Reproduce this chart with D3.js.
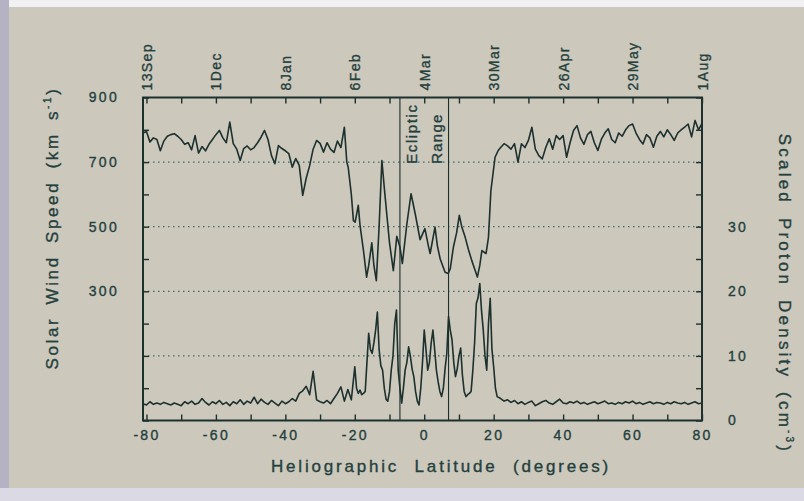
<!DOCTYPE html>
<html>
<head>
<meta charset="utf-8">
<script src="https://cdn.jsdelivr.net/npm/d3@7"></script>
<style>
body { margin: 0; background: #ccc7bb; }
svg text { font-family: "Liberation Sans", Arial, sans-serif; fill: #24403d; stroke: #24403d; stroke-width: 0.35px; }
</style>
</head>
<body>
<svg id="chart" width="804" height="501"></svg>
<script>
// ---- data ----
// solar wind speed (km/s) vs heliographic latitude
var speedLatLeft = d3.range(-81, -22);   // -81 .. -23
var speedLeft = [790, 795, 762, 775, 770, 735, 765, 780, 785, 788, 780, 770, 755, 760, 738, 782, 728, 748, 735, 755,
    770, 785, 798, 775, 760, 824, 757, 740, 705, 742, 750, 738, 745, 760, 777, 798, 770, 720, 695, 751,
    742, 735, 726, 684, 711, 690, 597, 650, 689, 740, 767, 758, 731, 760, 740, 730, 765, 745, 808];
var speedLatMid = [-22.3, -21.9, -21, -20.4, -19.9, -19, -18.5, -17.5, -16.6, -16, -15.1, -14.5, -13.8, -13, -12.2,
    -11.5, -10.8, -10, -8.9, -7.9, -7, -6.3, -5, -3.8, -2.6, -1.2, 0.2, 1.2, 1.7, 3.1, 3.8, 4.6, 6, 6.9, 7.5,
    8.4, 9.3, 10.1, 10.8, 11.8, 12.7, 13.7, 14.5, 15.3, 16, 16.6, 17.8, 18.5, 19.2, 20.4, 21.3, 22, 23];
var speedMid = [700, 684, 600, 519, 514, 566, 505, 426, 344, 380, 450, 380, 333, 500, 705,
    620, 540, 450, 364, 470, 437, 386, 509, 602, 540, 460, 494, 440, 417, 499, 440, 400, 359, 355, 370,
    437, 480, 535, 500, 467, 430, 395, 370, 344, 380, 426, 417, 467, 612, 715, 736, 745, 757];
var speedLatRight = d3.range(24, 81);    // 24 .. 80
var speedRight = [750, 740, 757, 700, 757, 745, 767, 808, 740, 720, 710, 745, 772, 740, 782, 770, 782, 715, 760, 798,
    813, 775, 755, 785, 795, 760, 736, 770, 790, 803, 770, 760, 790, 780, 800, 813, 818, 790, 770, 756,
    785, 775, 746, 780, 795, 778, 800, 785, 767, 790, 800, 808, 818, 778, 829, 800, 820];

// scaled proton density (cm^-3)
var densLatLeft = d3.range(-81, -20);    // -81 .. -21
var densLeft = [2.6, 2.4, 2.9, 2.5, 2.7, 2.5, 2.8, 2.6, 2.4, 2.7, 2.5, 2.3, 2.9, 2.6, 3.0, 2.5, 2.7, 3.4, 2.8, 2.4,
    2.9, 2.6, 3.1, 2.5, 2.8, 2.3, 2.9, 2.6, 3.2, 2.5, 3.0, 2.7, 3.6, 2.6, 3.3, 2.8, 2.5, 3.1, 2.7, 2.3,
    3.0, 2.6, 2.9, 3.4, 3.0, 4.2, 4.6, 5.3, 4.0, 7.6, 3.2, 2.9, 2.7, 3.1, 2.6, 3.4, 4.2, 5.2, 3.0, 4.8, 3.2];
var densLatMid = d3.range(-40, 43).map(function(i){ return i / 2; });   // -20 .. 21 by 0.5
var densMid = [8.3, 5.0, 4.2, 4.7, 4.0, 4.2, 4.5, 9.0, 13.5, 11.0, 10.4, 12.0, 14.0, 16.8, 11.0, 8.5, 7.8, 5.0, 3.3, 3.0,
    4.5, 7.8, 10.0, 15.0, 17.1, 7.8, 5.0, 2.7, 5.0, 7.8, 9.0, 11.4, 10.0, 8.0, 6.8, 4.5, 3.0, 2.4, 5.0, 9.0,
    14.0, 11.0, 7.8, 9.0, 12.0, 14.0, 11.0, 7.8, 6.0, 4.5, 3.7, 5.0, 8.0, 10.4, 16.1, 14.0, 12.5, 9.0, 6.8, 8.0,
    10.0, 11.2, 7.0, 4.5, 3.7, 4.0, 4.2, 4.5, 7.8, 12.0, 18.1, 19.0, 21.2, 17.0, 14.0, 10.0, 7.8, 15.0, 18.9, 11.0,
    8.3, 5.0, 3.7];
var densLatRight = d3.range(22, 81);     // 22 .. 80
var densRight = [3.4, 3.0, 3.2, 2.8, 3.1, 2.6, 2.9, 2.5, 2.8, 3.0, 2.3, 2.6, 2.9, 3.1, 2.7, 2.5, 2.9, 3.3, 2.7, 2.6,
    2.9, 2.7, 3.0, 2.6, 2.8, 2.5, 2.7, 2.9, 2.6, 2.8, 3.0, 2.6, 2.7, 2.5, 2.8, 2.6, 2.9, 2.7, 3.0, 2.6,
    2.8, 2.5, 2.7, 2.9, 2.6, 2.8, 2.7, 2.5, 2.8, 2.6, 2.9, 2.7, 2.6, 2.8, 2.5, 2.7, 2.9, 2.6, 2.7];

// axis labels
var speedTickLabels = [900, 700, 500, 300];
var densTickLabels = [0, 10, 20, 30];
var latTickLabels = [-80, -60, -40, -20, 0, 20, 40, 60, 80];
var dateLabels = ["13Sep", "1Dec", "8Jan", "6Feb", "4Mar", "30Mar", "26Apr", "29May", "1Aug"];
var gridSpeeds = [700, 500, 300, 100];
var eclipticRange = [-7, 7];

function zip(lat, val) {
    return lat.map(function(l, i){ return { lat: l, v: val[i] }; });
}
var speedData = zip(speedLatLeft, speedLeft).concat(zip(speedLatMid, speedMid), zip(speedLatRight, speedRight));
var densData = zip(densLatLeft, densLeft).concat(zip(densLatMid, densMid), zip(densLatRight, densRight));

// ---- layout ----
var margin = { left: 143, right: 102, top: 97.5, bottom: 80.5 },
    width = 804 - margin.left - margin.right,
    height = 501 - margin.top - margin.bottom;
var ink = "#1c302e";

var svg = d3.select("#chart");

// photo edges
svg.append("rect").attr("width", 804).attr("height", 501).attr("fill", "#ccc8bc");
svg.append("rect").attr("width", 804).attr("height", 7).attr("fill", "#f1f0f3");
svg.append("rect").attr("y", 0).attr("width", 9).attr("height", 501).attr("fill", "#b5b2c4");
svg.append("rect").attr("y", 488).attr("width", 804).attr("height", 13).attr("fill", "#dad9e4");

var g = svg.append("g")
    .attr("transform", "translate(" + margin.left + "," + margin.top + ")");

// scales
var x = d3.scaleLinear().domain([-81, 80]).range([0, width]);
var ySpeed = d3.scaleLinear().domain([-100, 900]).range([height, 0]);
var yDens = d3.scaleLinear().domain([0, 50]).range([height, 0]);

// dotted grid
g.selectAll(".grid")
    .data(gridSpeeds)
    .enter().append("line")
    .attr("class", "grid")
    .attr("x1", 0).attr("x2", width)
    .attr("y1", function(d){ return ySpeed(d); })
    .attr("y2", function(d){ return ySpeed(d); })
    .attr("stroke", "#3d6a66")
    .attr("stroke-width", 1.2)
    .attr("stroke-dasharray", "1.5,3.5");

// ecliptic range lines
g.selectAll(".ecl")
    .data(eclipticRange)
    .enter().append("line")
    .attr("x1", function(d){ return x(d); })
    .attr("x2", function(d){ return x(d); })
    .attr("y1", 0).attr("y2", height)
    .attr("stroke", ink)
    .attr("stroke-width", 1.1);

g.append("text")
    .attr("transform", "translate(" + (x(eclipticRange[0]) + 17) + ",6) rotate(-90)")
    .attr("text-anchor", "end")
    .attr("font-size", "15px")
    .attr("letter-spacing", "1.6px")
    .text("Ecliptic");
g.append("text")
    .attr("transform", "translate(" + (x(eclipticRange[1]) - 7) + ",16) rotate(-90)")
    .attr("text-anchor", "end")
    .attr("font-size", "15px")
    .attr("letter-spacing", "1.2px")
    .text("Range");

// axes
function styleAxis(sel) {
    sel.select(".domain").remove();
    sel.selectAll(".tick line").attr("stroke", ink).attr("stroke-width", 1.4);
    sel.selectAll("text").attr("font-size", "14px").attr("letter-spacing", "2.3px").attr("fill", "#24403d");
}

var leftAxis = g.append("g")
    .call(d3.axisLeft(ySpeed)
        .tickValues(d3.range(-100, 901, 100))
        .tickSize(-6).tickPadding(24)
        .tickFormat(function(d){ return speedTickLabels.indexOf(d) >= 0 ? d : ""; }));
styleAxis(leftAxis);

var rightAxis = g.append("g")
    .attr("transform", "translate(" + width + ",0)")
    .call(d3.axisRight(yDens)
        .tickValues(d3.range(0, 51, 5))
        .tickSize(-6).tickPadding(26)
        .tickFormat(function(d){ return densTickLabels.indexOf(d) >= 0 ? d : ""; }));
styleAxis(rightAxis);

var bottomAxis = g.append("g")
    .attr("transform", "translate(0," + height + ")")
    .call(d3.axisBottom(x)
        .tickValues(d3.range(-80, 81, 10))
        .tickSize(-6).tickPadding(10)
        .tickFormat(function(d){ return latTickLabels.indexOf(d) >= 0 ? String(d) : ""; }));
styleAxis(bottomAxis);

var topAxis = g.append("g")
    .call(d3.axisTop(x)
        .tickValues(d3.range(-80, 81, 10))
        .tickSize(-6)
        .tickFormat(function(d){
            var i = latTickLabels.indexOf(d);
            return i >= 0 ? dateLabels[i] : "";
        }));
styleAxis(topAxis);
topAxis.selectAll("text")
    .attr("transform", "rotate(-90)")
    .attr("x", 7).attr("y", 0).attr("dy", "0.36em")
    .attr("letter-spacing", "1.4px")
    .style("text-anchor", "start");

// frame
g.append("rect")
    .attr("width", width).attr("height", height)
    .attr("fill", "none")
    .attr("stroke", ink)
    .attr("stroke-width", 2);

// series
var speedLine = d3.line()
    .x(function(d){ return x(d.lat); })
    .y(function(d){ return ySpeed(d.v); });
var densLine = d3.line()
    .x(function(d){ return x(d.lat); })
    .y(function(d){ return yDens(d.v); });

g.append("path")
    .attr("d", speedLine(speedData))
    .attr("fill", "none").attr("stroke", ink)
    .attr("stroke-width", 1.6).attr("stroke-linejoin", "round");
g.append("path")
    .attr("d", densLine(densData))
    .attr("fill", "none").attr("stroke", ink)
    .attr("stroke-width", 1.6).attr("stroke-linejoin", "round");

// axis titles
var yTitle = svg.append("text")
    .attr("transform", "translate(58,228) rotate(-90)")
    .attr("text-anchor", "middle")
    .attr("font-size", "17px")
    .attr("letter-spacing", "2.6px")
    .attr("word-spacing", "5px");
yTitle.append("tspan").text("Solar Wind Speed (km s");
yTitle.append("tspan").attr("font-size", "10px").attr("dy", -7).text("-1");
yTitle.append("tspan").attr("dy", 7).text(")");

var rTitle = svg.append("text")
    .attr("transform", "translate(779,294) rotate(90)")
    .attr("text-anchor", "middle")
    .attr("font-size", "17px")
    .attr("letter-spacing", "3.2px")
    .attr("word-spacing", "5px");
rTitle.append("tspan").text("Scaled Proton Density (cm");
rTitle.append("tspan").attr("font-size", "10px").attr("dy", -7).text("-3");
rTitle.append("tspan").attr("dy", 7).text(")");

svg.append("text")
    .attr("x", 441).attr("y", 472)
    .attr("text-anchor", "middle")
    .attr("font-size", "17px")
    .attr("letter-spacing", "2.8px")
    .attr("word-spacing", "8px")
    .text("Heliographic Latitude (degrees)");
</script>
</body>
</html>
